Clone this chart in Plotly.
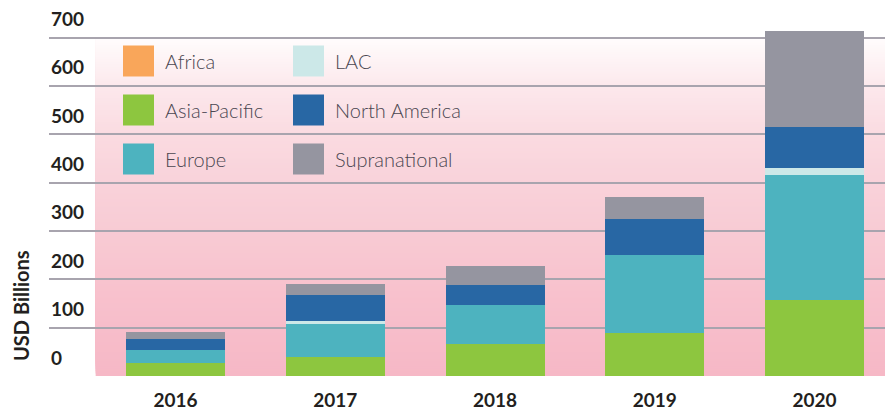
import plotly.graph_objects as go

# data (USD billions)
years = ["2016", "2017", "2018", "2019", "2020"]
regions = ["Africa", "Asia-Pacific", "Europe", "LAC", "North America", "Supranational"]
africa = [0, 0, 0, 0, 0]
asia_pacific = [26, 39, 66, 88, 157]
europe = [27, 68, 80, 162, 258]
lac = [0, 6, 0, 0, 15]
north_america = [23, 54, 42, 74, 86]
supranational = [14, 23, 39, 46, 197]
colors = ["#f9a65a", "#8dc63f", "#4db3bf", "#cce8e8", "#2867a4", "#9595a0"]
y_ticks = [0, 100, 200, 300, 400, 500, 600, 700]

series = [africa, asia_pacific, europe, lac, north_america, supranational]

# layout geometry (pixels); the page body has an 8px margin, so shrink to fit
OFF = 8
W, H = 893 - OFF, 412 - OFF
L, R, T, B = 49 - OFF, 5, 28 - OFF, 36
plot_w = W - L - R
plot_h = H - T - B

fig = go.Figure()
for name, vals, col in zip(regions, series, colors):
    fig.add_trace(go.Bar(x=years, y=vals, name=name, marker=dict(color=col, line=dict(width=0)),
                         width=0.62, showlegend=False))

# pink vertical gradient behind the bars
stops = [(0, "#f6b8c6"), (100, "#f7bdca"), (200, "#f8c3ce"), (300, "#f8cbd4"),
         (400, "#f9d2da"), (500, "#fadbe1"), (600, "#fce8ec"), (700, "#fffdfd")]


def hex2rgb(h):
    return tuple(int(h[i:i + 2], 16) for i in (1, 3, 5))


def grad(v):
    for (a, ca), (b, cb) in zip(stops, stops[1:]):
        if a <= v <= b:
            t = (v - a) / (b - a)
            ra, rb = hex2rgb(ca), hex2rgb(cb)
            return "rgb(%d,%d,%d)" % tuple(round(p + (q - p) * t) for p, q in zip(ra, rb))
    return stops[-1][1]


# each stripe runs up to the top so later ones cover it -> no seams
step = 5
shapes = []
for v in range(0, 700, step):
    shapes.append(dict(type="rect", xref="x", yref="y", x0=-0.5, x1=4.46, y0=v, y1=700,
                       fillcolor=grad(v + step / 2), line=dict(width=0), layer="below"))

# custom legend with large square swatches (positions in screen pixels)
annotations = []
leg_cols = [123, 293]
leg_rows = [61, 110, 159]


def px_x(p):
    return (p - OFF - L) / plot_w


def px_y(p):
    return (H - B - (p - OFF)) / plot_h


for i, (name, col) in enumerate(zip(regions, colors)):
    cx = leg_cols[i // 3]
    cy = leg_rows[i % 3]
    shapes.append(dict(type="rect", xref="paper", yref="paper",
                       x0=px_x(cx), x1=px_x(cx + 31),
                       y0=px_y(cy + 15.5), y1=px_y(cy - 15.5),
                       fillcolor=col, line=dict(width=0)))
    annotations.append(dict(xref="paper", yref="paper", x=px_x(cx + 40), y=px_y(cy),
                            text=name, showarrow=False, xanchor="left", yanchor="middle",
                            font=dict(family="Lato", size=20, color="#4a4650", weight=300)))

# y tick labels sit above their gridlines in the original
for v in y_ticks:
    annotations.append(dict(xref="paper", yref="y", x=0, y=v, yshift=19, text=str(v),
                            showarrow=False, xanchor="left", yanchor="middle",
                            font=dict(family="Lato", size=19, color="#231f20", weight="bold")))

annotations.append(dict(xref="paper", yref="paper", x=px_x(21), y=px_y(306),
                        text="USD Billions", textangle=-90, showarrow=False,
                        xanchor="center", yanchor="middle",
                        font=dict(family="Lato", size=20, color="#231f20", weight="bold")))

fig.update_layout(
    width=W, height=H,
    margin=dict(l=L, r=R, t=T, b=B, autoexpand=False),
    barmode="stack",
    plot_bgcolor="white",
    paper_bgcolor="white",
    shapes=shapes,
    annotations=annotations,
    xaxis=dict(type="category", range=[-0.792, 4.46], showgrid=False, zeroline=False,
               ticks="", ticklabelstandoff=11, automargin=False,
               tickfont=dict(family="Lato", size=19, color="#231f20", weight="bold")),
    yaxis=dict(range=[0, plot_h / 0.4835], tickvals=y_ticks, showticklabels=False,
               showgrid=True, gridcolor="#a8a4ae", gridwidth=1.5, zeroline=False,
               automargin=False),
)

fig.write_html("out.html")
